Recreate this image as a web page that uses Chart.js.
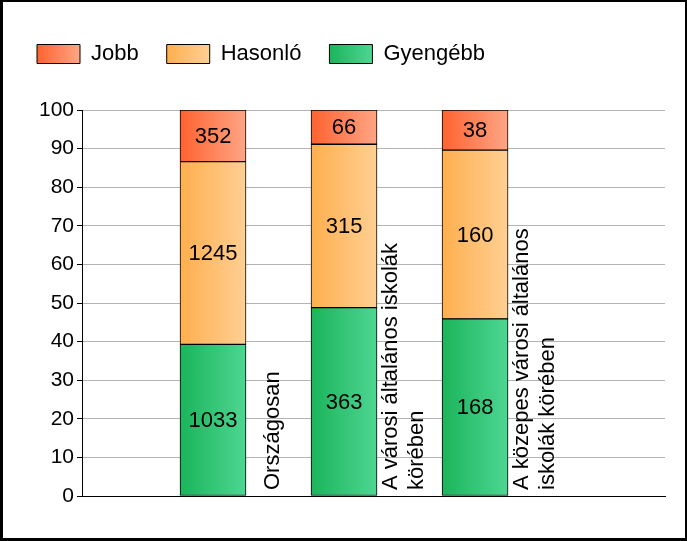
<!DOCTYPE html>
<html>
<head>
<meta charset="utf-8">
<script src="https://cdn.jsdelivr.net/npm/chart.js@4.4.1/dist/chart.umd.min.js"></script>
<style>
  html, body { margin: 0; padding: 0; background: #fff; }
  #wrap { position: relative; width: 687px; height: 541px; }
  #c { position: absolute; left: 0; top: 0; }
  #frame { position: absolute; left: 0; top: 0; width: 687px; height: 541px; box-sizing: border-box;
           border-style: solid; border-color: #000; border-width: 2px 2px 3px 3px; pointer-events: none; }
</style>
</head>
<body>
<div id="wrap">
  <canvas id="c" width="687" height="541"></canvas>
  <div id="frame"></div>
</div>
<script>
// ---- data ----
const categories = [
  ["Országosan"],
  ["A városi általános iskolák", "körében"],
  ["A közepes városi általános", "iskolák körében"]
];
const categoryPositions = [1, 2, 3];
const seriesNames = ["Jobb", "Hasonló", "Gyengébb"];
const jobbCounts = [352, 66, 38];
const hasonloCounts = [1245, 315, 160];
const gyengebbCounts = [1033, 363, 168];
const yTicksMax = 100;
const yTicksStep = 10;

const FONT = "'Liberation Sans', Arial, sans-serif";
const FS = 22;
const TICK_FS = 21;
const BAR_W = 66;

const totals = categoryPositions.map((_, i) => jobbCounts[i] + hasonloCounts[i] + gyengebbCounts[i]);
const pct = arr => arr.map((v, i) => v / totals[i] * 100);

const palette = {
  "Jobb": ["#FF6230", "#FFA585"],
  "Hasonló": ["#FFAF4E", "#FFCF93"],
  "Gyengébb": ["#1BB45B", "#4ED692"]
};

function makeGradient(ctx, x0, x1, name) {
  if (!isFinite(x0) || !isFinite(x1)) return palette[name][0];
  const g = ctx.createLinearGradient(x0, 0, x1, 0);
  g.addColorStop(0, palette[name][0]);
  g.addColorStop(1, palette[name][1]);
  return g;
}

function barFill(name) {
  return function (c) {
    if (c.type !== 'data') return palette[name][0];
    const xs = c.chart.scales && c.chart.scales.x;
    if (!xs) return palette[name][0];
    const cx = xs.getPixelForValue(categoryPositions[c.dataIndex]);
    return makeGradient(c.chart.ctx, cx - BAR_W / 2, cx + BAR_W / 2, name);
  };
}

function mkDataset(name, counts) {
  const p = pct(counts);
  return {
    label: name,
    data: categoryPositions.map((x, i) => ({ x: x, y: p[i] })),
    counts: counts,
    backgroundColor: barFill(name),
    borderColor: '#000',
    borderWidth: 1,
    borderSkipped: false,
    barThickness: BAR_W
  };
}

const datasets = [
  mkDataset("Gyengébb", gyengebbCounts),
  mkDataset("Hasonló", hasonloCounts),
  mkDataset("Jobb", jobbCounts)
];

const legendHeightPlugin = {
  id: 'legendHeight',
  beforeInit(chart) {
    const lg = chart.legend;
    if (!lg) return;
    const orig = lg.fit;
    lg.fit = function () { orig.call(this); this.height = 95; };
  },
  afterUpdate(chart) {
    const lg = chart.legend;
    if (!lg || !lg.legendItems || !lg.legendHitBoxes) return;
    const bw = lg.options.labels.boxWidth;
    lg.legendItems.forEach((item, i) => {
      const hb = lg.legendHitBoxes[i];
      if (!hb) return;
      const name = chart.data.datasets[item.datasetIndex].label;
      item.fillStyle = makeGradient(chart.ctx, hb.left, hb.left + bw, name);
    });
  }
};

const labelsPlugin = {
  id: 'valueAndCategoryLabels',
  afterDatasetsDraw(chart) {
    const ctx = chart.ctx;
    ctx.save();
    ctx.fillStyle = '#000';
    ctx.font = FS + 'px ' + FONT;
    ctx.textAlign = 'center';
    ctx.textBaseline = 'middle';
    chart.data.datasets.forEach((ds, di) => {
      const meta = chart.getDatasetMeta(di);
      meta.data.forEach((el, i) => {
        ctx.fillText(String(ds.counts[i]), el.x, (el.y + el.base) / 2 + 1);
      });
    });
    const xs = chart.scales.x;
    const bottom = chart.chartArea.bottom;
    ctx.textAlign = 'left';
    ctx.textBaseline = 'alphabetic';
    categories.forEach((lines, i) => {
      const barRight = xs.getPixelForValue(categoryPositions[i]) + BAR_W / 2;
      const n = lines.length;
      lines.forEach((line, j) => {
        const bx = barRight + 32.5 + (j - (n - 1) / 2) * 26;
        ctx.save();
        ctx.translate(bx, bottom - 6);
        ctx.rotate(-Math.PI / 2);
        ctx.fillText(line, 0, 0);
        ctx.restore();
      });
    });
    ctx.restore();
  }
};

new Chart(document.getElementById('c'), {
  type: 'bar',
  data: { datasets: datasets },
  options: {
    responsive: false,
    animation: false,
    layout: { padding: { left: 9, right: 22, top: 15, bottom: 45 } },
    plugins: {
      legend: {
        position: 'top',
        align: 'start',
        reverse: true,
        labels: {
          boxWidth: 43,
          boxHeight: 19,
          padding: 28,
          color: '#000',
          font: { family: FONT, size: FS }
        }
      },
      tooltip: { enabled: false },
      title: { display: false }
    },
    scales: {
      x: {
        type: 'linear',
        stacked: true,
        offset: false,
        min: 0,
        max: 4.45,
        grid: { display: true, drawOnChartArea: false, drawTicks: false, color: 'rgba(0,0,0,0)' },
        border: { display: true, color: '#000', width: 1 },
        ticks: { display: false },
        afterFit(s) { s.height = 0; }
      },
      y: {
        stacked: true,
        min: 0,
        max: yTicksMax,
        ticks: { stepSize: yTicksStep, color: '#000', padding: 3, font: { family: FONT, size: TICK_FS } },
        grid: { color: '#b4b4b4', tickColor: '#000', tickLength: 5, lineWidth: 1 },
        border: { display: true, color: '#000', width: 1 },
        afterFit(s) { s.width = 73; }
      }
    }
  },
  plugins: [legendHeightPlugin, labelsPlugin]
});
</script>
</body>
</html>
